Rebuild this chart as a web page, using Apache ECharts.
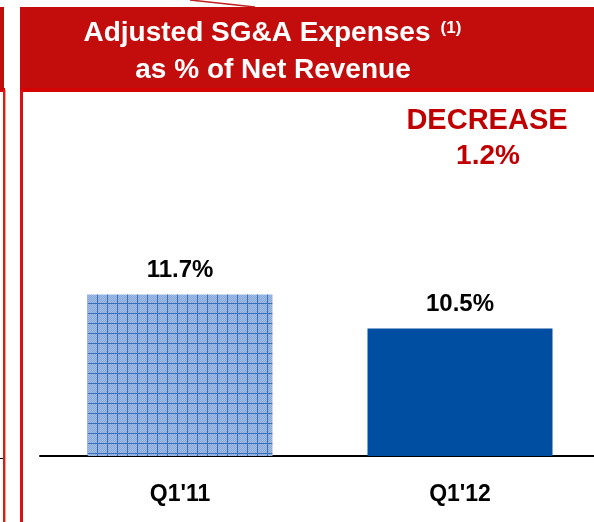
<!DOCTYPE html>
<html>
<head>
    <meta charset="utf-8">
    <title>Adjusted SG&amp;A Expenses</title>
    <script src="https://cdn.jsdelivr.net/npm/echarts@6.0.0/dist/echarts.min.js"></script>
    <style>
        html, body {
            margin: 0;
            padding: 0;
            background: #ffffff;
        }

        #sga-chart {
            width: 594px;
            height: 522px;
        }
    </style>
</head>
<body>
<div id="sga-chart"></div>
<script>
    // 数据
    var quarters = ["Q1'11", "Q1'12"];
    var sgaPct = [11.7, 10.5];
    var changeText = ['DECREASE', '1.2%'];

    var FONT = '"Liberation Sans", Arial, sans-serif';
    var RED = '#c30d0d';

    // 网格纹理 (Q1'11 柱子)
    function gridPattern() {
        var c = document.createElement('canvas');
        c.width = 10;
        c.height = 10;
        var ctx = c.getContext('2d');
        for (var y = 0; y < 10; y++) {
            for (var x = 0; x < 10; x++) {
                ctx.fillStyle = (x + y) % 2 === 0 ? '#a2bde4' : '#86a8da';
                ctx.fillRect(x, y, 1, 1);
            }
        }
        ctx.fillStyle = '#3a6fbb';
        ctx.fillRect(7, 0, 1, 10);
        ctx.fillRect(0, 3, 10, 1);
        return c;
    }

    var chart = echarts.init(document.getElementById('sga-chart'), null, {renderer: 'canvas'});

    var option = {
        animation: false,
        backgroundColor: '#ffffff',
        grid: {
            left: 40,
            right: -6,
            top: 116,
            bottom: 66,
            outerBoundsMode: 'none'
        },
        xAxis: {
            type: 'category',
            data: quarters,
            axisLine: {lineStyle: {color: '#000000', width: 2}},
            axisTick: {show: false},
            axisLabel: {
                color: '#000000',
                fontFamily: FONT,
                fontWeight: 'bold',
                fontSize: 23,
                margin: 27
            }
        },
        yAxis: {
            type: 'value',
            min: 6,
            max: 18,
            show: false,
            splitLine: {show: false}
        },
        series: [{
            type: 'bar',
            barWidth: 185,
            data: [
                {value: sgaPct[0], itemStyle: {color: {image: gridPattern(), repeat: 'repeat'}}},
                {value: sgaPct[1], itemStyle: {color: '#004ea2'}}
            ],
            label: {
                show: true,
                position: 'top',
                distance: 12,
                formatter: '{c}%',
                color: '#000000',
                fontFamily: FONT,
                fontWeight: 'bold',
                fontSize: 24
            }
        }],
        graphic: [
            // 顶部红色标题栏
            {type: 'rect', shape: {x: 20, y: 7, width: 580, height: 82}, style: {fill: RED}, z: 10},
            {type: 'rect', shape: {x: 20, y: 88, width: 580, height: 4}, style: {fill: '#d40404'}, z: 10},
            {type: 'rect', shape: {x: 0, y: 7, width: 4, height: 82}, style: {fill: RED}, z: 10},
            {type: 'rect', shape: {x: 0, y: 88, width: 5, height: 4}, style: {fill: '#d40404'}, z: 10},
            // 左侧竖线
            {type: 'rect', shape: {x: 3, y: 90, width: 2, height: 440}, style: {fill: '#e01818'}, z: 10},
            {type: 'rect', shape: {x: 5, y: 90, width: 1, height: 440}, style: {fill: '#f4a0a0'}, z: 10},
            {type: 'rect', shape: {x: 20, y: 90, width: 3, height: 440}, style: {fill: '#d81010'}, z: 10},
            {type: 'line', shape: {x1: 0, y1: 458.5, x2: 3, y2: 458.5}, style: {stroke: '#000000', lineWidth: 1}, z: 10},
            // 顶部斜线
            {type: 'line', shape: {x1: 190, y1: 0, x2: 255, y2: 7}, style: {stroke: '#c02020', lineWidth: 1.5}, z: 9},
            // 标题
            {
                type: 'text', x: 257, y: 33, z: 11,
                style: {
                    text: 'Adjusted SG&A Expenses', fill: '#ffffff', font: 'bold 28px ' + FONT,
                    align: 'center', verticalAlign: 'middle'
                }
            },
            {
                type: 'text', x: 451, y: 28, z: 11,
                style: {
                    text: '(1)', fill: '#ffffff', font: 'bold 17px ' + FONT,
                    align: 'center', verticalAlign: 'middle'
                }
            },
            {
                type: 'text', x: 273, y: 70, z: 11,
                style: {
                    text: 'as % of Net Revenue', fill: '#ffffff', font: 'bold 28px ' + FONT,
                    align: 'center', verticalAlign: 'middle'
                }
            },
            // 变化说明
            {
                type: 'text', x: 487, y: 121, z: 11,
                style: {
                    text: changeText[0], fill: '#c00000', font: 'bold 29px ' + FONT,
                    align: 'center', verticalAlign: 'middle'
                }
            },
            {
                type: 'text', x: 488, y: 156, z: 11,
                style: {
                    text: changeText[1], fill: '#c00000', font: 'bold 28px ' + FONT,
                    align: 'center', verticalAlign: 'middle'
                }
            }
        ]
    };

    chart.setOption(option);
</script>
</body>
</html>
